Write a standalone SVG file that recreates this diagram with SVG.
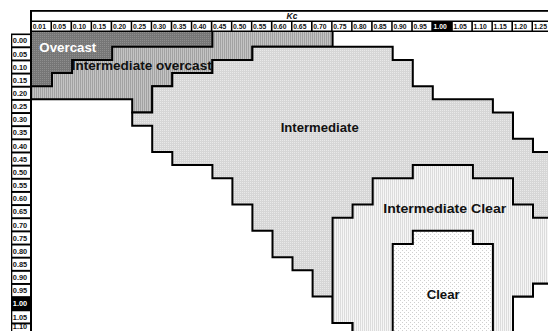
<svg xmlns="http://www.w3.org/2000/svg" width="548" height="331" viewBox="0 0 548 331">
<style>
.rg{stroke:#000;stroke-width:2;stroke-linejoin:miter}
.lbl{font-family:"Liberation Sans",Arial,sans-serif;font-weight:bold;font-size:12.5px;fill:#111}
.hn{font-family:"Liberation Sans",Arial,sans-serif;font-weight:bold;font-size:6.8px;fill:#111}
.rn{font-family:"Liberation Sans",Arial,sans-serif;font-weight:bold;font-size:7.4px;fill:#111}
.cw{fill:#fff}
</style>
<defs>
<pattern id="pOv" width="2" height="2" patternUnits="userSpaceOnUse"><rect width="2" height="2" fill="#767676"/><rect width="1" height="1" fill="#8e8e8e"/></pattern>
<pattern id="pIO" width="2" height="2" patternUnits="userSpaceOnUse"><rect width="2" height="2" fill="#c4c4c4"/><rect width="1" height="2" fill="#a2a2a2"/></pattern>
<pattern id="pI" width="2" height="2" patternUnits="userSpaceOnUse"><rect width="2" height="2" fill="#d6d6d6"/><rect width="1" height="1" fill="#e9e9e9"/></pattern>
<pattern id="pIC" width="2" height="2" patternUnits="userSpaceOnUse"><rect width="2" height="2" fill="#f6f6f6"/><rect width="1" height="2" fill="#dcdcdc"/></pattern>
<pattern id="pCl" width="4" height="4" patternUnits="userSpaceOnUse"><rect width="4" height="4" fill="#fff"/><rect width="1" height="1" fill="#cfcfcf"/><rect x="2" y="2" width="1" height="1" fill="#cfcfcf"/></pattern>
</defs>
<rect width="548" height="331" fill="#fff"/>
<g id="regions">
<g id="intermediate-overcast"><polygon class="rg" fill="url(#pIO)" points="31,31 332.6,31 332.6,46.75 252.4,46.75 252.4,59.9 212.4,59.9 212.4,73.05 172.3,73.05 172.3,86.2 152.2,86.2 152.2,112.5 132.2,112.5 132.2,99.35 31,99.35"/></g>
<g id="overcast"><polygon class="rg" fill="url(#pOv)" points="31,31 212.4,31 212.4,46.75 112.2,46.75 112.2,59.9 72.1,59.9 72.1,73.05 52,73.05 52,86.2 31,86.2"/></g>
<g id="intermediate"><polygon class="rg" fill="url(#pI)" points="132.2,112.5 152.2,112.5 152.2,86.2 172.3,86.2 172.3,73.05 212.4,73.05 212.4,59.9 252.4,59.9 252.4,46.75 392.7,46.75 392.7,59.9 412.8,59.9 412.8,86.2 432.8,86.2 432.8,99.35 492.9,99.35 492.9,112.5 513,112.5 513,138.8 533,138.8 533,151.95 552,151.95 552,283.45 533,283.45 533,296.6 513,296.6 513,336 352.6,336 352.6,322.9 332.6,322.9 332.6,296.6 312.6,296.6 312.6,270.3 292.5,270.3 292.5,257.15 272.5,257.15 272.5,230.85 252.4,230.85 252.4,204.55 232.4,204.55 232.4,178.25 212.4,178.25 212.4,165.1 172.3,165.1 172.3,151.95 152.2,151.95 152.2,125.65 132.2,125.65"/></g>
<g id="intermediate-clear"><polygon class="rg" fill="url(#pIC)" points="332.6,217.7 352.6,217.7 352.6,204.55 372.7,204.55 372.7,178.25 412.8,178.25 412.8,165.1 472.9,165.1 472.9,178.25 513,178.25 513,204.55 533,204.55 533,217.7 552,217.7 552,283.45 533,283.45 533,296.6 513,296.6 513,336 352.6,336 352.6,322.9 332.6,322.9"/></g>
<g id="clear"><polygon class="rg" fill="url(#pCl)" points="392.7,244 412.8,244 412.8,230.85 472.9,230.85 472.9,244 492.9,244 492.9,336 392.7,336"/></g>
</g>
<g id="region-labels">
<text class="lbl" x="39.3" y="52.3" style="fill:#fff" font-size="12" textLength="57" lengthAdjust="spacingAndGlyphs">Overcast</text>
<text class="lbl" x="71.7" y="70" textLength="140" lengthAdjust="spacingAndGlyphs">Intermediate overcast</text>
<text class="lbl" x="280.7" y="131.7" textLength="78" lengthAdjust="spacingAndGlyphs">Intermediate</text>
<text class="lbl" x="383.3" y="213.3" textLength="123" lengthAdjust="spacingAndGlyphs">Intermediate Clear</text>
<text class="lbl" x="426.7" y="299" textLength="33" lengthAdjust="spacingAndGlyphs">Clear</text>
</g>
<g id="header">
<rect x="30" y="10" width="518" height="1.8" fill="#000"/>
<text x="286.5" y="19" font-family="'Liberation Sans',Arial,sans-serif" font-weight="bold" font-style="italic" font-size="8.5" fill="#111">Kc</text>
<rect x="30" y="20.5" width="518" height="11.5" fill="#000"/>
<rect class="cw" x="32" y="22" width="18.5" height="8.5"/>
<rect class="cw" x="52" y="22" width="18.5" height="8.5"/>
<rect class="cw" x="72.1" y="22" width="18.5" height="8.5"/>
<rect class="cw" x="92.1" y="22" width="18.5" height="8.5"/>
<rect class="cw" x="112.2" y="22" width="18.5" height="8.5"/>
<rect class="cw" x="132.2" y="22" width="18.5" height="8.5"/>
<rect class="cw" x="152.2" y="22" width="18.5" height="8.5"/>
<rect class="cw" x="172.3" y="22" width="18.5" height="8.5"/>
<rect class="cw" x="192.3" y="22" width="18.5" height="8.5"/>
<rect class="cw" x="212.4" y="22" width="18.5" height="8.5"/>
<rect class="cw" x="232.4" y="22" width="18.5" height="8.5"/>
<rect class="cw" x="252.4" y="22" width="18.5" height="8.5"/>
<rect class="cw" x="272.5" y="22" width="18.5" height="8.5"/>
<rect class="cw" x="292.5" y="22" width="18.5" height="8.5"/>
<rect class="cw" x="312.6" y="22" width="18.5" height="8.5"/>
<rect class="cw" x="332.6" y="22" width="18.5" height="8.5"/>
<rect class="cw" x="352.6" y="22" width="18.5" height="8.5"/>
<rect class="cw" x="372.7" y="22" width="18.5" height="8.5"/>
<rect class="cw" x="392.7" y="22" width="18.5" height="8.5"/>
<rect class="cw" x="412.8" y="22" width="18.5" height="8.5"/>
<rect class="cw" x="452.8" y="22" width="18.5" height="8.5"/>
<rect class="cw" x="472.9" y="22" width="18.5" height="8.5"/>
<rect class="cw" x="492.9" y="22" width="18.5" height="8.5"/>
<rect class="cw" x="513" y="22" width="18.5" height="8.5"/>
<rect class="cw" x="533" y="22" width="18.5" height="8.5"/>
<text class="hn" x="32.7" y="28.5">0.01</text>
<text class="hn" x="52.7" y="28.5">0.05</text>
<text class="hn" x="72.8" y="28.5">0.10</text>
<text class="hn" x="92.8" y="28.5">0.15</text>
<text class="hn" x="112.9" y="28.5">0.20</text>
<text class="hn" x="132.9" y="28.5">0.25</text>
<text class="hn" x="152.9" y="28.5">0.30</text>
<text class="hn" x="173" y="28.5">0.35</text>
<text class="hn" x="193" y="28.5">0.40</text>
<text class="hn" x="213.1" y="28.5">0.45</text>
<text class="hn" x="233.1" y="28.5">0.50</text>
<text class="hn" x="253.1" y="28.5">0.55</text>
<text class="hn" x="273.2" y="28.5">0.60</text>
<text class="hn" x="293.2" y="28.5">0.65</text>
<text class="hn" x="313.3" y="28.5">0.70</text>
<text class="hn" x="333.3" y="28.5">0.75</text>
<text class="hn" x="353.3" y="28.5">0.80</text>
<text class="hn" x="373.4" y="28.5">0.85</text>
<text class="hn" x="393.4" y="28.5">0.90</text>
<text class="hn" x="413.5" y="28.5">0.95</text>
<text class="hn" x="433.5" y="28.5" style="fill:#fff">1.00</text>
<text class="hn" x="453.5" y="28.5">1.05</text>
<text class="hn" x="473.6" y="28.5">1.10</text>
<text class="hn" x="493.6" y="28.5">1.15</text>
<text class="hn" x="513.7" y="28.5">1.20</text>
<text class="hn" x="533.7" y="28.5">1.25</text>
</g>
<g id="row-axis">
<rect x="11" y="33.5" width="21" height="297.5" fill="#000"/>
<rect x="30" y="10" width="2" height="321" fill="#000"/>
<rect class="cw" x="12.3" y="35.1" width="17.7" height="11.2"/>
<rect class="cw" x="12.3" y="48.25" width="17.7" height="11.2"/>
<rect class="cw" x="12.3" y="61.4" width="17.7" height="11.2"/>
<rect class="cw" x="12.3" y="74.55" width="17.7" height="11.2"/>
<rect class="cw" x="12.3" y="87.7" width="17.7" height="11.2"/>
<rect class="cw" x="12.3" y="100.85" width="17.7" height="11.2"/>
<rect class="cw" x="12.3" y="114" width="17.7" height="11.2"/>
<rect class="cw" x="12.3" y="127.15" width="17.7" height="11.2"/>
<rect class="cw" x="12.3" y="140.3" width="17.7" height="11.2"/>
<rect class="cw" x="12.3" y="153.45" width="17.7" height="11.2"/>
<rect class="cw" x="12.3" y="166.6" width="17.7" height="11.2"/>
<rect class="cw" x="12.3" y="179.75" width="17.7" height="11.2"/>
<rect class="cw" x="12.3" y="192.9" width="17.7" height="11.2"/>
<rect class="cw" x="12.3" y="206.05" width="17.7" height="11.2"/>
<rect class="cw" x="12.3" y="219.2" width="17.7" height="11.2"/>
<rect class="cw" x="12.3" y="232.35" width="17.7" height="11.2"/>
<rect class="cw" x="12.3" y="245.5" width="17.7" height="11.2"/>
<rect class="cw" x="12.3" y="258.65" width="17.7" height="11.2"/>
<rect class="cw" x="12.3" y="271.8" width="17.7" height="11.2"/>
<rect class="cw" x="12.3" y="284.95" width="17.7" height="11.2"/>
<rect class="cw" x="12.3" y="311.25" width="17.7" height="11.2"/>
<rect class="cw" x="12.3" y="324.4" width="17.7" height="11.2"/>
<text class="rn" x="12.8" y="43.4">0.00</text>
<text class="rn" x="12.8" y="56.55">0.05</text>
<text class="rn" x="12.8" y="69.7">0.10</text>
<text class="rn" x="12.8" y="82.85">0.15</text>
<text class="rn" x="12.8" y="96">0.20</text>
<text class="rn" x="12.8" y="109.15">0.25</text>
<text class="rn" x="12.8" y="122.3">0.30</text>
<text class="rn" x="12.8" y="135.45">0.35</text>
<text class="rn" x="12.8" y="148.6">0.40</text>
<text class="rn" x="12.8" y="161.75">0.45</text>
<text class="rn" x="12.8" y="174.9">0.50</text>
<text class="rn" x="12.8" y="188.05">0.55</text>
<text class="rn" x="12.8" y="201.2">0.60</text>
<text class="rn" x="12.8" y="214.35">0.65</text>
<text class="rn" x="12.8" y="227.5">0.70</text>
<text class="rn" x="12.8" y="240.65">0.75</text>
<text class="rn" x="12.8" y="253.8">0.80</text>
<text class="rn" x="12.8" y="266.95">0.85</text>
<text class="rn" x="12.8" y="280.1">0.90</text>
<text class="rn" x="12.8" y="293.25">0.95</text>
<text class="rn" x="12.8" y="306.4" style="fill:#fff">1.00</text>
<text class="rn" x="12.8" y="319.55">1.05</text>
<text class="rn" x="12.8" y="329">1.10</text>
</g>
</svg>
